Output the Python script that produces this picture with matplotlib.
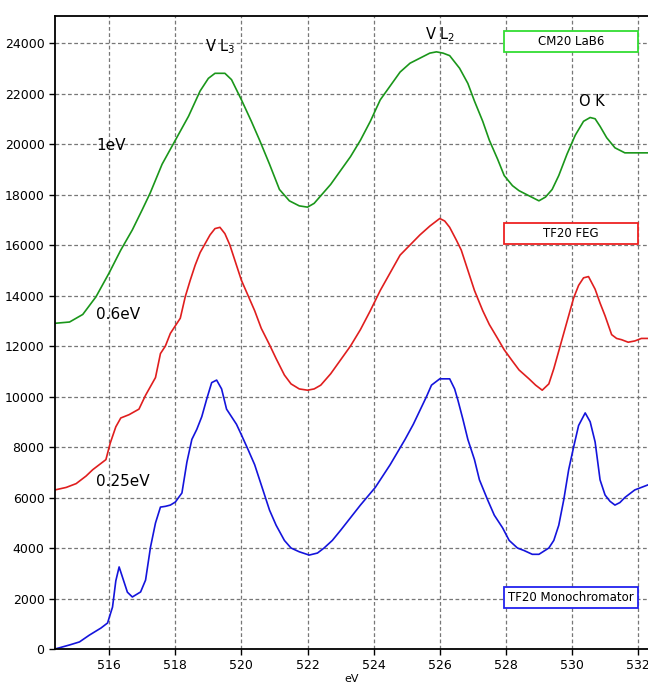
import matplotlib
matplotlib.use("Agg")
import matplotlib.pyplot as plt
from matplotlib.patches import Rectangle

plt.rcParams['font.family'] = ['DejaVu Sans']

green_x = [514.36, 514.8, 515.2, 515.6, 516.0, 516.35, 516.7, 517.0, 517.24, 517.6, 518.0, 518.4, 518.75, 519.0, 519.2, 519.5, 519.7, 520.0, 520.3, 520.55, 520.85, 521.15, 521.45, 521.75, 522.0, 522.2, 522.4, 522.7, 523.0, 523.3, 523.6, 523.9, 524.2, 524.5, 524.8, 525.1, 525.4, 525.7, 525.9, 526.1, 526.3, 526.6, 526.85, 527.05, 527.3, 527.5, 527.75, 527.95, 528.2, 528.4, 528.7, 529.0, 529.2, 529.4, 529.6, 529.85, 530.1, 530.35, 530.55, 530.7, 530.85, 531.05, 531.3, 531.6, 531.9, 532.3]
green_y = [12900, 12950, 13250, 13950, 14900, 15800, 16600, 17400, 18060, 19200, 20150, 21100, 22100, 22600, 22800, 22800, 22550, 21750, 20900, 20150, 19200, 18200, 17750, 17550, 17500, 17650, 17950, 18400, 18950, 19500, 20150, 20900, 21750, 22300, 22850, 23200, 23400, 23600, 23650, 23600, 23500, 23000, 22400, 21700, 20900, 20150, 19400, 18750, 18350, 18150, 17950, 17750, 17900, 18200, 18750, 19600, 20350, 20900, 21050, 21000, 20700, 20250, 19850, 19650, 19650, 19650]

red_x = [514.36, 514.7, 515.0, 515.3, 515.5, 515.75, 515.9, 516.03, 516.2, 516.35, 516.6, 516.9, 517.1, 517.25, 517.4, 517.55, 517.7, 517.85, 518.0, 518.15, 518.3, 518.45, 518.6, 518.75, 518.9, 519.05, 519.2, 519.35, 519.5, 519.65, 519.8, 520.0, 520.2, 520.4, 520.6, 520.85, 521.05, 521.3, 521.5, 521.75, 522.0, 522.2, 522.4, 522.7, 523.0, 523.3, 523.6, 523.9, 524.2, 524.5, 524.8, 525.1, 525.4, 525.7, 526.0, 526.15, 526.3, 526.5, 526.65, 526.85, 527.05, 527.3, 527.5, 527.75, 527.95, 528.2, 528.4, 528.7, 528.9, 529.1, 529.3, 529.45, 529.6, 529.75, 529.9, 530.05, 530.2, 530.35, 530.5, 530.7, 530.85, 531.0, 531.2, 531.35, 531.5, 531.7, 531.9, 532.1, 532.3]
red_y = [6300, 6400, 6550, 6850, 7100, 7350, 7500, 8150, 8800, 9150, 9280, 9500, 10050, 10400, 10750, 11700, 12000, 12500, 12800, 13100, 13950, 14600, 15200, 15700, 16050, 16400, 16650, 16700, 16450, 16000, 15400, 14600, 14000, 13400, 12700, 12050, 11500, 10850, 10500, 10300, 10250, 10300, 10450, 10900, 11450, 12000, 12650, 13400, 14200, 14900, 15600, 16000, 16400, 16750, 17050, 16950, 16700, 16200, 15800, 15000, 14200, 13400, 12850, 12300, 11850, 11400, 11050, 10700, 10450, 10250, 10500, 11100, 11800, 12500, 13200, 13900, 14400, 14700, 14750, 14250, 13700, 13200, 12450, 12300, 12250, 12150, 12200, 12300, 12300]

blue_x = [514.36, 514.8, 515.1, 515.4, 515.75, 515.95, 516.1, 516.2, 516.3, 516.4, 516.55, 516.7, 516.95, 517.1, 517.25, 517.4, 517.55, 517.7, 517.85, 518.0, 518.2, 518.35, 518.5, 518.65, 518.8, 518.95, 519.1, 519.25, 519.4, 519.55, 519.7, 519.85, 520.0, 520.2, 520.4, 520.6, 520.85, 521.05, 521.3, 521.5, 521.75, 522.05, 522.3, 522.5, 522.75, 523.0, 523.3, 523.6, 524.05, 524.5, 524.95, 525.2, 525.4, 525.6, 525.75, 526.0, 526.3, 526.45, 526.55, 526.7, 526.85, 527.05, 527.2, 527.45, 527.65, 527.9, 528.1, 528.35, 528.55, 528.8, 529.0, 529.3, 529.45, 529.6, 529.75, 529.9, 530.05, 530.2, 530.4, 530.55, 530.7, 530.85, 531.0, 531.15, 531.3, 531.45, 531.6, 531.9, 532.3]
blue_y = [0, 160, 280, 550, 830, 1030, 1660, 2700, 3250, 2850, 2250, 2060, 2260, 2730, 4040, 4990, 5620, 5650, 5700, 5820, 6180, 7400, 8300, 8700, 9200, 9900, 10550, 10650, 10300, 9500, 9200, 8900, 8480, 7900, 7300, 6500, 5500, 4900, 4300, 4000, 3850, 3720, 3800, 4000, 4300, 4700, 5200, 5700, 6400, 7300, 8300, 8900, 9450, 10000, 10450, 10700, 10700, 10300, 9850, 9100, 8300, 7500, 6700, 5900, 5300, 4800, 4300, 4000, 3900, 3750, 3750, 4000, 4300, 4900, 5900, 7100, 8000, 8850, 9350, 9000, 8200, 6700, 6100, 5850, 5700, 5800, 6000, 6300, 6500]

x_ticks = [516, 518, 520, 522, 524, 526, 528, 530, 532]
y_ticks = [0, 2000, 4000, 6000, 8000, 10000, 12000, 14000, 16000, 18000, 20000, 22000, 24000]
box_labels = ["CM20 LaB6", "TF20 FEG", "TF20 Monochromator"]
res_labels = ["1eV", "0.6eV", "0.25eV"]

fig = plt.figure(figsize=(6.48, 6.86), dpi=100)
ax = fig.add_axes([55/648, 37/686, 593/648, 633/686])

ax.plot(green_x, green_y, color='#1a961a', lw=1.2)
ax.plot(red_x, red_y, color='#e01e1e', lw=1.2)
ax.plot(blue_x, blue_y, color='#1414dc', lw=1.2)

ax.set_xlim(514.36, 532.3)
ax.set_ylim(0, 25070)
ax.set_xticks(x_ticks)
ax.set_yticks(y_ticks)
ax.set_yticklabels([str(v) for v in y_ticks])
ax.tick_params(labelsize=9, length=4, width=1, direction='out')
ax.grid(True, color='#777777', linestyle=(0, (3, 2)), linewidth=0.9)
ax.spines['right'].set_visible(False)
for s in ['left', 'bottom', 'top']:
    ax.spines[s].set_linewidth(1.3)
ax.set_xlabel('eV', fontsize=8, labelpad=1)

# peak annotations
ax.text(519.35, 23500, 'V L$_3$', fontsize=10.5, ha='center', va='bottom')
ax.text(526.0, 23950, 'V L$_2$', fontsize=10.5, ha='center', va='bottom')
ax.text(530.6, 21400, 'O K', fontsize=10.5, ha='center', va='bottom')

# resolution labels
ax.text(515.6, 19950, res_labels[0], fontsize=11, ha='left', va='center')
ax.text(515.6, 13250, res_labels[1], fontsize=11, ha='left', va='center')
ax.text(515.6, 6630, res_labels[2], fontsize=11, ha='left', va='center')

# boxed labels
box_specs = [(0.943, '#33dd33'), (0.640, '#ee2222'), (0.0648, '#2222ee')]
for (yb, ec), lab in zip(box_specs, box_labels):
    ax.add_patch(Rectangle((0.757, yb), 0.226, 0.033, transform=ax.transAxes,
                           facecolor='white', edgecolor=ec, lw=1.3, zorder=5))
    ax.text(0.757 + 0.113, yb + 0.0165, lab, transform=ax.transAxes, fontsize=8.5,
            ha='center', va='center', zorder=6)

fig.savefig('out.png', dpi=100)
